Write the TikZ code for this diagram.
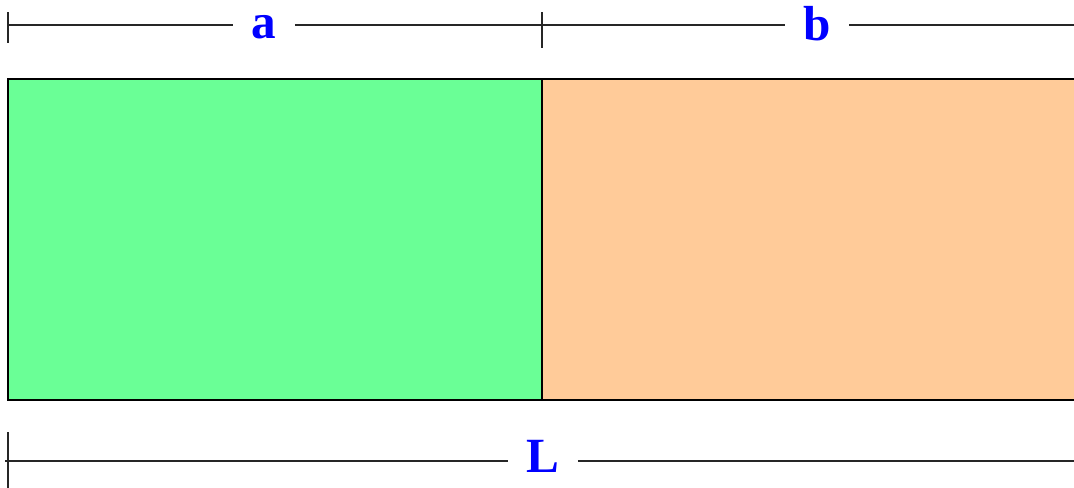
\documentclass[tikz,border=0pt]{standalone}
\usepackage{fontspec}
\setmainfont{Liberation Serif}
\usetikzlibrary{positioning}
\definecolor{partgreen}{RGB}{106,255,150}
\definecolor{partorange}{RGB}{255,203,153}
\definecolor{lblblue}{RGB}{0,0,255}
\tikzset{
  dimline/.style={line width=1.4pt, color=black!85},
  dimlabel/.style={font=\fontsize{35}{40}\selectfont\bfseries, text=lblblue,
    inner xsep=13pt, inner ysep=0pt, anchor=base},
  part/.style={draw=black, line width=1.4pt}
}

\begin{document}
\begin{tikzpicture}[x=0.25mm, y=-0.25mm]
  \clip (0,0) rectangle (1074,488);

  % Parts of the bar
  \draw[part, fill=partgreen] (8,79) rectangle (542,400);
  \draw[part, fill=partorange] (542,79) rectangle (1100,400);

  % Top dimension lines
  \coordinate (topleft) at (8,25);
  \coordinate (topmid) at (542,25);
  \coordinate (topright) at (1100,25);
  \node[dimlabel] (lbla) at (264,38) {a};
  \node[dimlabel] (lblb) at (817,40) {b};
  \draw[dimline] (topleft) -- (lbla.west |- topleft);
  \draw[dimline] (lbla.east |- topmid) -- (topmid);
  \draw[dimline] (topmid) -- (lblb.west |- topmid);
  \draw[dimline] (lblb.east |- topright) -- (topright);
  \draw[dimline] (8,12) -- (8,43);
  \draw[dimline] (542,12) -- (542,48);

  % Bottom dimension line
  \coordinate (botleft) at (5,461);
  \coordinate (botright) at (1100,461);
  \node[dimlabel] (lblL) at (543,472) {L};
  \draw[dimline] (botleft) -- (lblL.west |- botleft);
  \draw[dimline] (lblL.east |- botright) -- (botright);
  \draw[dimline] (8,432) -- (8,495);
\end{tikzpicture}
\end{document}
